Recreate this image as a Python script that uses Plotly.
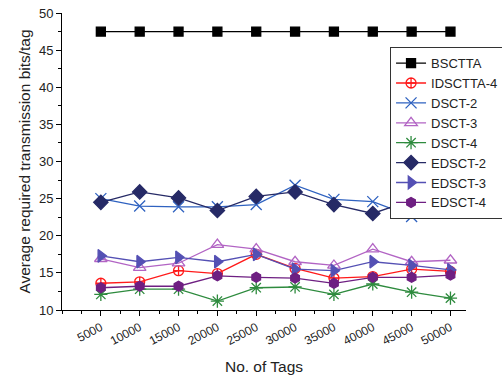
import plotly.graph_objects as go

tags = [5000, 10000, 15000, 20000, 25000, 30000, 35000, 40000, 45000, 50000]
tick_labels = ["5000", "10000", "15000", "20000", "25000", "30000", "35000", "40000", "45000", "50000"]

bsctta = [47.5, 47.5, 47.5, 47.5, 47.5, 47.5, 47.5, 47.5, 47.5, 47.5]
idsctta4 = [13.6, 13.8, 15.3, 14.9, 17.5, 15.6, 14.3, 14.5, 15.5, 15.2]
dsct2 = [25.0, 24.0, 23.9, 23.9, 24.2, 26.8, 24.9, 24.6, 22.6, 23.5]
dsct3 = [16.9, 15.7, 16.3, 18.8, 18.2, 16.5, 16.0, 18.2, 16.5, 16.7]
dsct4 = [12.1, 12.8, 12.8, 11.2, 13.0, 13.1, 12.1, 13.5, 12.4, 11.6]
edsct2 = [24.5, 25.9, 25.1, 23.4, 25.3, 25.9, 24.2, 23.0, 24.8, 23.6]
edsct3 = [17.3, 16.5, 17.1, 16.5, 17.5, 15.5, 15.3, 16.5, 16.0, 15.4]
edsct4 = [13.0, 13.2, 13.2, 14.6, 14.4, 14.3, 13.6, 14.4, 14.4, 14.7]

series = [
    ("BSCTTA", bsctta, "#000000", "square", 9),
    ("IDSCTTA-4", idsctta4, "#ff1a1a", "circle-cross-open", 10),
    ("DSCT-2", dsct2, "#2f62c0", "x-thin-open", 11),
    ("DSCT-3", dsct3, "#b264c4", "triangle-up-open", 11),
    ("DSCT-4", dsct4, "#2e8b3e", "asterisk-open", 11),
    ("EDSCT-2", edsct2, "#262a66", "diamond", 11),
    ("EDSCT-3", edsct3, "#5450b4", "triangle-right", 11),
    ("EDSCT-4", edsct4, "#6e1f82", "hexagon", 10),
]

fig = go.Figure()
for name, vals, color, sym, size in series:
    fig.add_trace(go.Scatter(
        x=tags, y=vals, name=name, mode="lines+markers",
        line=dict(color=color, width=1.3),
        marker=dict(symbol=sym, size=size, color=color,
                    line=dict(color=color, width=1.3)),
    ))

font = "Liberation Sans, Arial, sans-serif"
fig.update_layout(
    width=502, height=381,
    margin=dict(l=62, r=36, t=13, b=71, autoexpand=False),
    paper_bgcolor="white", plot_bgcolor="white",
    font=dict(family=font, size=12, color="#222222"),
    showlegend=True,
    legend=dict(
        x=0.812, y=0.885, xanchor="left", yanchor="top",
        bgcolor="white", bordercolor="#333333", borderwidth=1,
        font=dict(size=13), tracegroupgap=0, itemwidth=30,
    ),
    xaxis=dict(
        range=[0, 52000], tickvals=tags, ticktext=tick_labels,
        tickangle=-28, ticks="outside", ticklen=5, tickwidth=1,
        showline=True, linecolor="#000000", linewidth=1,
        showgrid=False, zeroline=False, automargin=False,
        minor=dict(dtick=2500, tick0=0, ticks="outside", ticklen=3, tickcolor="#000000"),
        tickcolor="#000000",
        title=dict(text="No. of Tags", font=dict(size=15.5), standoff=14),
        tickfont=dict(size=12),
    ),
    yaxis=dict(
        range=[10, 50], dtick=5, tick0=10,
        ticks="outside", ticklen=5, tickwidth=1, tickcolor="#000000",
        showline=True, linecolor="#000000", linewidth=1,
        showgrid=False, zeroline=False, automargin=False,
        minor=dict(dtick=2.5, tick0=10, ticks="outside", ticklen=3, tickcolor="#000000"),
        title=dict(text="Average required transmission bits/tag", font=dict(size=15.5), standoff=4),
        tickfont=dict(size=13),
    ),
)

fig.write_html("out.html")
